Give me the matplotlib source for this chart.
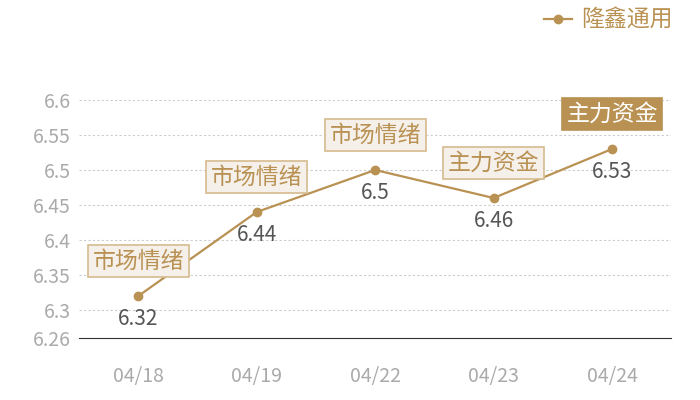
import matplotlib
matplotlib.use('Agg')
import matplotlib.pyplot as plt

plt.rcParams['font.family'] = ['Noto Sans CJK SC', 'DejaVu Sans']

dates = ['04/18', '04/19', '04/22', '04/23', '04/24']
prices = [6.32, 6.44, 6.5, 6.46, 6.53]
tags = ['市场情绪', '市场情绪', '市场情绪', '主力资金', '主力资金']
yticks = [6.26, 6.3, 6.35, 6.4, 6.45, 6.5, 6.55, 6.6]
name = '隆鑫通用'

gold = '#b99152'

fig = plt.figure(figsize=(7, 4), dpi=100)
ax = fig.add_axes([0.113, 0.155, 0.846, 0.595])
x = range(len(dates))
ax.plot(x, prices, color=gold, lw=1.6, marker='o', ms=6, label=name, zorder=3)

for i, v in enumerate(prices):
    ax.annotate(str(v), (i, v), xytext=(0, -9), textcoords='offset points',
                ha='center', va='top', fontsize=15, color='#555555')
    last = i == len(prices) - 1
    ax.annotate(tags[i], (i, v), xytext=(0, 25), textcoords='offset points',
                ha='center', va='center', fontsize=16.5,
                color='white' if last else gold,
                bbox=dict(boxstyle='square,pad=0.2',
                          fc=gold if last else '#f5f0ea',
                          ec=gold if last else '#d6bb8e', lw=1.2),
                zorder=4)

ax.set_xlim(-0.5, len(dates) - 0.5)
ax.set_ylim(6.26, 6.6)
ax.set_xticks(list(x))
ax.set_xticklabels(dates)
ax.set_yticks(yticks)
ax.set_yticklabels([f'{t:g}' for t in yticks])
ax.tick_params(length=0, labelsize=14, colors='#aaaaaa')
ax.tick_params(axis='x', pad=20)
ax.tick_params(axis='y', pad=6)
for s in ['top', 'right', 'left']:
    ax.spines[s].set_visible(False)
ax.spines['bottom'].set_color('#333333')
ax.yaxis.grid(True, ls=(0, (2, 2)), color='#cccccc', lw=0.8)
ax.set_axisbelow(True)

leg = fig.legend(loc='upper right', bbox_to_anchor=(0.99, 1.03), frameon=False,
                 fontsize=16.5, handlelength=1.2, handletextpad=0.4)
for t in leg.get_texts():
    t.set_color(gold)

plt.savefig('out.png', dpi=100)
